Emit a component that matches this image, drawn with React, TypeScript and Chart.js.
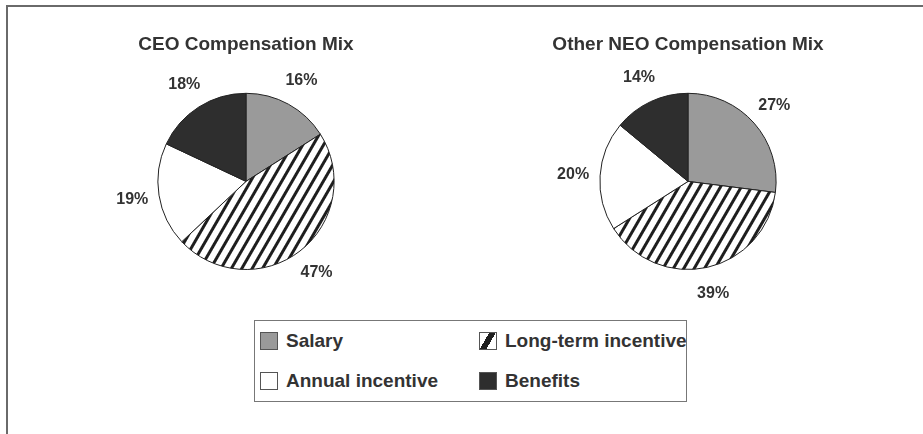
import React, { useEffect, useRef } from "react";
import { Chart, registerables } from "chart.js";

Chart.register(...registerables);

const categories = ["Salary", "Long-term incentive", "Annual incentive", "Benefits"];
const ceoValues = [16, 47, 19, 18];
const neoValues = [27, 39, 20, 14];
const chartTitles = ["CEO Compensation Mix", "Other NEO Compensation Mix"];

const FONT = "'Liberation Sans', Arial, Helvetica, sans-serif";
const TEXT = "#333333";

function makeHatch(): CanvasPattern | string {
  const tile = document.createElement("canvas");
  tile.width = 9;
  tile.height = 9;
  const c = tile.getContext("2d")!;
  c.fillStyle = "#ffffff";
  c.fillRect(0, 0, 9, 9);
  c.fillStyle = "#1e1e1e";
  c.fillRect(3, 0, 3, 9);
  const ctx = document.createElement("canvas").getContext("2d")!;
  const pat = ctx.createPattern(tile, "repeat");
  if (!pat) return "#888";
  try {
    pat.setTransform(new DOMMatrix().rotateSelf(30));
  } catch (e) {}
  return pat;
}

const labelPlugin = {
  id: "outerLabels",
  afterDatasetsDraw(chart: any) {
    const ctx = chart.ctx;
    const meta = chart.getDatasetMeta(0);
    const data = chart.data.datasets[0].data;
    ctx.save();
    ctx.font = `bold 16px ${FONT}`;
    ctx.fillStyle = TEXT;
    ctx.textAlign = "center";
    ctx.textBaseline = "middle";
    meta.data.forEach((arc: any, i: number) => {
      const p = arc.getProps(["x", "y", "startAngle", "endAngle", "outerRadius"], true);
      const mid = (p.startAngle + p.endAngle) / 2;
      const d = p.outerRadius + 27;
      ctx.fillText(`${data[i]}%`, p.x + Math.cos(mid) * d, p.y + Math.sin(mid) * d);
    });
    ctx.restore();
  },
};

function PieChart({ values, title }: { values: number[]; title: string }) {
  const ref = useRef<HTMLCanvasElement>(null);
  useEffect(() => {
    const hatch = makeHatch();
    const chart = new Chart(ref.current!, {
      type: "pie",
      data: {
        labels: categories,
        datasets: [
          {
            data: values,
            backgroundColor: ["#9a9a9a", hatch as any, "#ffffff", "#2e2e2e"],
            borderColor: "#222222",
            borderWidth: 1,
          },
        ],
      },
      options: {
        responsive: false,
        animation: false,
        events: [],
        layout: { padding: { left: 0, right: 0, top: 0, bottom: 40 } },
        plugins: {
          legend: { display: false },
          tooltip: { enabled: false },
          title: {
            display: true,
            text: title,
            color: TEXT,
            font: { family: FONT, size: 19, weight: "bold" },
            padding: { top: 7, bottom: 37 },
          },
        },
      },
      plugins: [labelPlugin],
    });
    return () => chart.destroy();
  }, [values, title]);
  return <canvas ref={ref} width={300} height={284} />;
}

function Swatch({ bg }: { bg: string }) {
  return (
    <span
      style={{
        display: "inline-block",
        width: 16,
        height: 16,
        border: "1px solid #555",
        background: bg,
        marginRight: 8,
        flex: "0 0 auto",
      }}
    />
  );
}

const swatchBgs = [
  "#9a9a9a",
  "linear-gradient(120deg, #fff 0 36%, #1e1e1e 36% 62%, #fff 62% 100%)",
  "#ffffff",
  "#2e2e2e",
];

export default function App() {
  const legendOrder = [0, 1, 2, 3];
  return (
    <div
      style={{
        position: "absolute",
        left: 0,
        top: 0,
        width: 923,
        height: 434,
        background: "#fff",
        overflow: "hidden",
        fontFamily: FONT,
      }}
    >
      <div style={{ position: "absolute", left: 6, top: 5, right: 0, height: 2, background: "#6a6a6a" }} />
      <div style={{ position: "absolute", left: 6, top: 5, width: 2, bottom: 0, background: "#6a6a6a" }} />
      <div style={{ position: "absolute", left: 96, top: 26 }}>
        <PieChart values={ceoValues} title={chartTitles[0]} />
      </div>
      <div style={{ position: "absolute", left: 538, top: 26 }}>
        <PieChart values={neoValues} title={chartTitles[1]} />
      </div>
      <div
        style={{
          position: "absolute",
          left: 254,
          top: 320,
          width: 431,
          height: 80,
          border: "1.5px solid #777",
          boxSizing: "content-box",
          background: "#fff",
        }}
      >
        {legendOrder.map((idx, k) => {
          const col = k % 2;
          const row = Math.floor(k / 2);
          return (
            <div
              key={idx}
              style={{
                position: "absolute",
                left: col === 0 ? 5 : 224,
                top: row === 0 ? 11 : 51,
                display: "flex",
                alignItems: "center",
                height: 18,
                fontSize: 19,
                fontWeight: "bold",
                color: TEXT,
                whiteSpace: "nowrap",
              }}
            >
              <Swatch bg={swatchBgs[idx]} />
              <span>{categories[idx]}</span>
            </div>
          );
        })}
      </div>
    </div>
  );
}
